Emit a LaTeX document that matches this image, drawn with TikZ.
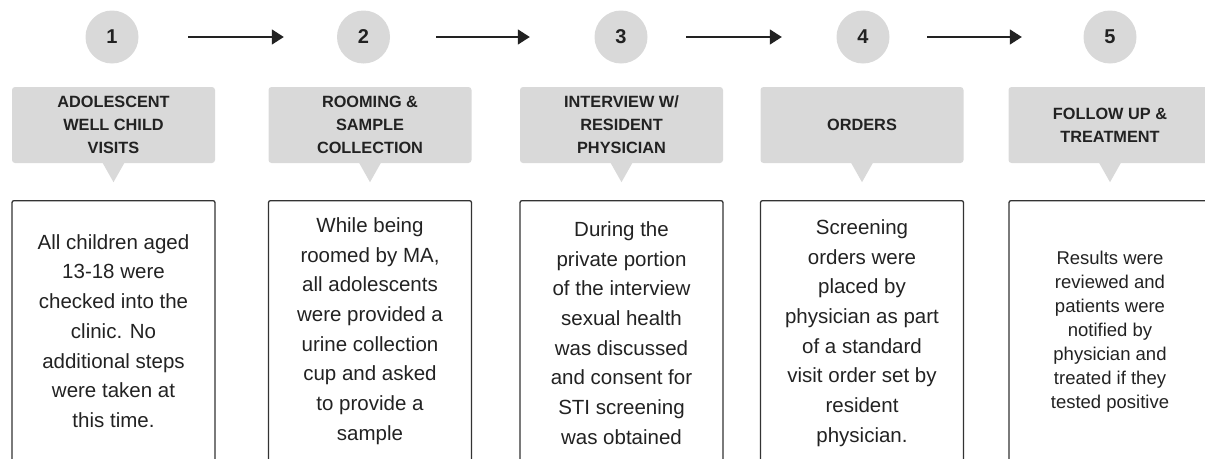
\documentclass[tikz,border=0pt]{standalone}
\usepackage{fontspec}
\setmainfont{Liberation Sans}
\usetikzlibrary{arrows.meta}
\definecolor{pill}{HTML}{D9D9D9}
\definecolor{ink}{HTML}{222222}
\definecolor{frame}{HTML}{333333}
\tikzset{
  num/.style={circle, fill=pill, minimum size=53pt, inner sep=0pt, text=ink, font=\fontsize{20}{20}\selectfont\bfseries},
  head/.style={rectangle, rounded corners=3pt, fill=pill, minimum width=203pt, minimum height=76pt, inner sep=0pt, align=center, text=ink, font=\fontsize{16.3}{23}\selectfont\bfseries},
  frm/.style={rectangle, rounded corners=2pt, draw=frame, line width=1.3pt, minimum width=203pt, minimum height=280pt, inner sep=0pt, anchor=north},
  body/.style={align=center, text=ink, inner sep=0pt, font=\fontsize{20.5}{29.7}\selectfont},
  flow/.style={draw=ink, line width=1.5pt, -{Triangle[length=12pt,width=15pt]}},
  ptr/.style={fill=pill}
}
\begin{document}
\begin{tikzpicture}[x=1pt,y=1pt]
\useasboundingbox (0,0) rectangle (1205,-458);
% step circles
\node[num] (c1) at (112,-37) {1};
\node[num] (c2) at (363.5,-37) {2};
\node[num] (c3) at (621,-37) {3};
\node[num] (c4) at (863,-37) {4};
\node[num] (c5) at (1110,-37) {5};
% arrows
\draw[flow, shorten <=49.5pt, shorten >=53pt] (c1) -- (c2);
\draw[flow, shorten <=46pt, shorten >=64.5pt] (c2) -- (c3);
\draw[flow, shorten <=38.5pt, shorten >=54.5pt] (c3) -- (c4);
\draw[flow, shorten <=37.5pt, shorten >=61.5pt] (c4) -- (c5);
% headings
\node[head] (h1) at (113.5,-125) {ADOLESCENT\\WELL CHILD\\VISITS};
\node[head] (h2) at (370,-125) {ROOMING \&\\SAMPLE\\COLLECTION};
\node[head] (h3) at (621.5,-125) {INTERVIEW W/\\RESIDENT\\PHYSICIAN};
\node[head] (h4) at (862,-125) {ORDERS};
\node[head] (h5) at (1110,-125) {FOLLOW UP \&\\TREATMENT};
\foreach \h in {h1,h2,h3,h4,h5}{
  \fill[ptr] ([xshift=-11pt,yshift=0.5pt]\h.south) -- ([yshift=-19pt]\h.south) -- ([xshift=11pt,yshift=0.5pt]\h.south) -- cycle;
}
% frames
\node[frm] (b1) at (113.5,-200) {};
\node[frm] (b2) at (370,-200) {};
\node[frm] (b3) at (621.5,-200) {};
\node[frm] (b4) at (862,-200) {};
\node[frm] (b5) at (1110.5,-200) {};
% body texts
\node[body] (t1) at (113.5,-331) {All children aged\\13-18 were\\checked into the\\clinic. No\\additional steps\\were taken at\\this time.};
\node[body] (t2) at (370,-331) {While being\\roomed by MA,\\all adolescents\\were provided a\\urine collection\\cup and asked\\to provide a\\sample};
\node[body] (t3) at (621.5,-333) {During the\\private portion\\of the interview\\sexual health\\was discussed\\and consent for\\STI screening\\was obtained};
\node[body] (t4) at (862,-333) {Screening\\orders were\\placed by\\physician as part\\of a standard\\visit order set by\\resident\\physician.};
\node[body, font=\fontsize{18.5}{24}\selectfont] (t5) at (1110,-332) {Results were\\reviewed and\\patients were\\notified by\\physician and\\treated if they\\tested positive};
\end{tikzpicture}
\end{document}
